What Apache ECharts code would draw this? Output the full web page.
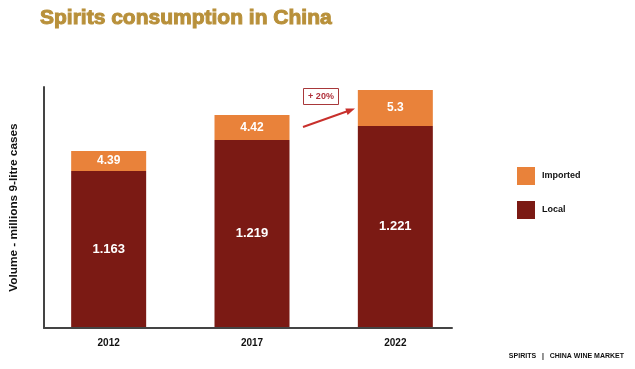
<!DOCTYPE html>
<html>
<head>
<meta charset="utf-8">
<script src="https://cdn.jsdelivr.net/npm/echarts@6/dist/echarts.min.js"></script>
<style>html,body{margin:0;padding:0;background:#fff;}#c{width:635px;height:369px;}</style>
</head>
<body>
<div id="c"></div>
<script>
const categories = ['2012', '2017', '2022'];
const localHeights = [156, 187, 201];
const importedHeights = [20, 25, 36];
const localLabels = ['1.163', '1.219', '1.221'];
const importedLabels = ['4.39', '4.42', '5.3'];

const chart = echarts.init(document.getElementById('c'), null, {renderer: 'canvas'});
const FONT = 'Liberation Sans';
chart.setOption({
  backgroundColor: '#ffffff',
  animation: false,
  title: {
    text: 'Spirits consumption in China',
    left: 35, top: 3,
    textStyle: {color: '#B8903A', fontSize: 21, fontWeight: 'bold', fontFamily: FONT,
      textBorderColor: '#B8903A', textBorderWidth: 1}
  },
  legend: {
    orient: 'vertical', left: 512, top: 162,
    itemWidth: 18, itemHeight: 18, itemGap: 16,
    icon: 'rect',
    data: ['Imported', 'Local'],
    textStyle: {color: '#111', fontSize: 9, fontWeight: 'bold', fontFamily: FONT, padding: [0, 0, 0, 2]}
  },
  grid: [
    {left: 37, width: 430, top: 87, height: 240},
    {left: 43, width: 409, top: 87, height: 241}
  ],
  xAxis: [
    {type: 'category', gridIndex: 0, data: categories,
      axisLine: {show: false}, axisTick: {show: false},
      axisLabel: {margin: 11, color: '#111', fontSize: 10, fontWeight: 'bold', fontFamily: FONT}},
    {type: 'value', gridIndex: 1, min: 0, max: 1,
      axisLine: {show: true, onZero: false, lineStyle: {color: '#444', width: 2}},
      axisTick: {show: false}, axisLabel: {show: false}, splitLine: {show: false}}
  ],
  yAxis: [
    {type: 'value', gridIndex: 0, min: 0, max: 240, show: false},
    {type: 'value', gridIndex: 1, min: 0, max: 1,
      name: 'Volume - millions 9-litre cases', nameLocation: 'middle', nameGap: 24, nameRotate: 90,
      nameTextStyle: {color: '#111', fontSize: 11.8, fontWeight: 'bold', fontFamily: FONT},
      axisLine: {show: true, onZero: false, lineStyle: {color: '#444', width: 2}},
      axisTick: {show: false}, axisLabel: {show: false}, splitLine: {show: false}}
  ],
  series: [
    {name: 'Local', type: 'bar', stack: 's', xAxisIndex: 0, yAxisIndex: 0,
      barWidth: 75, data: localHeights,
      itemStyle: {color: '#7B1A14'},
      label: {show: true, position: 'inside', color: '#fff', fontSize: 13, fontWeight: 'bold', fontFamily: FONT,
        formatter: p => localLabels[p.dataIndex]}},
    {name: 'Imported', type: 'bar', stack: 's', xAxisIndex: 0, yAxisIndex: 0,
      barWidth: 75, data: importedHeights,
      itemStyle: {color: '#E9823A'},
      label: {show: true, position: 'inside', color: '#fff', fontSize: 12, fontWeight: 'bold', fontFamily: FONT,
        formatter: p => importedLabels[p.dataIndex]}}
  ],
  graphic: [
    {type: 'rect', shape: {x: 303.5, y: 88.5, width: 35, height: 16},
      style: {fill: '#fff', stroke: '#A8383A', lineWidth: 1}},
    {type: 'text', x: 321, y: 96.5,
      style: {text: '+ 20%', fill: '#B0303A', font: 'bold 9px "Liberation Sans"', textAlign: 'center', textVerticalAlign: 'middle'}},
    {type: 'line', shape: {x1: 303, y1: 127, x2: 348, y2: 111},
      style: {stroke: '#C8302C', lineWidth: 2}},
    {type: 'polygon', shape: {points: [[355, 108.6], [347.6, 115], [345.3, 108.5]]},
      style: {fill: '#C8302C'}},
    {type: 'text', x: 624, y: 356,
      style: {text: 'SPIRITS   |   CHINA WINE MARKET', fill: '#111', font: 'bold 7px "Liberation Sans"', textAlign: 'right', textVerticalAlign: 'middle'}}
  ]
});
</script>
</body>
</html>
